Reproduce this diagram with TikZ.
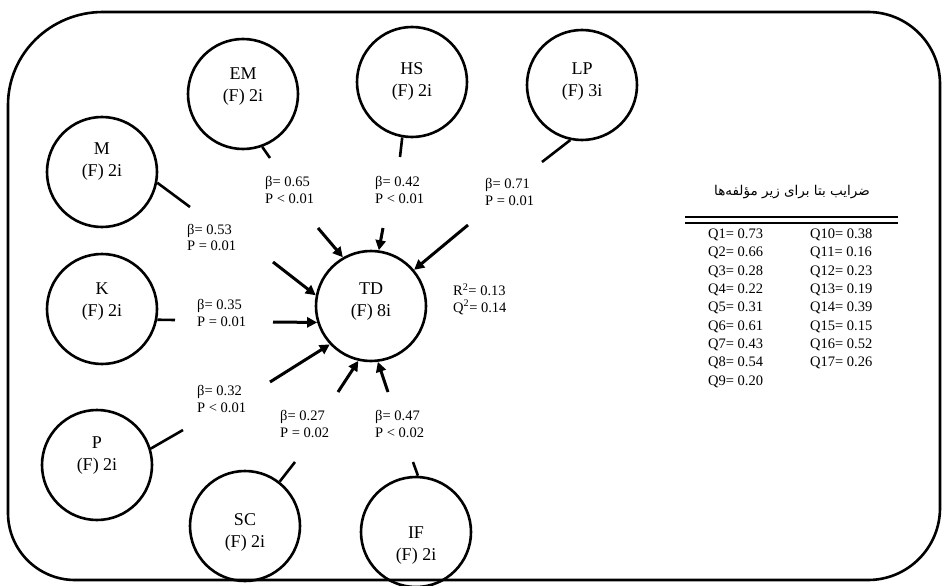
\documentclass[tikz,border=0pt]{standalone}
\usepackage{fontspec}
\setmainfont{Liberation Serif}
\newfontfamily\arabicfont[Script=Arabic]{DejaVu Sans}
\TeXXeTstate=1
\usetikzlibrary{arrows.meta}
\begin{document}
\begin{tikzpicture}[x=1pt,y=-1pt,
  lat/.style={circle,draw,line width=2.6pt,minimum size=110pt,inner sep=0pt},
  lbl/.style={align=center,font=\fontsize{18}{22}\selectfont,inner sep=0pt},
  coef/.style={align=left,anchor=west,font=\fontsize{14.5}{16.5}\selectfont,inner sep=0pt},
  stub/.style={line width=2.6pt},
  arr/.style={line width=3pt,-{Triangle[length=10pt,width=10pt]}},
  tab/.style={anchor=west,font=\fontsize{14.5}{17}\selectfont,inner sep=0pt}
]
\useasboundingbox (0,0) rectangle (948,586);
% outer frame, larger rounding at top left
\draw[line width=2.6pt] (8,300) -- (8,105) arc[start angle=180,end angle=90,x radius=95pt,y radius=93pt]
  -- (868,12) arc[start angle=90,end angle=0,x radius=72pt,y radius=72pt]
  -- (940,508) arc[start angle=0,end angle=-90,x radius=72pt,y radius=72pt]
  -- (75,580) arc[start angle=-90,end angle=-180,x radius=67pt,y radius=67pt] -- cycle;

% latent variables
\node[lat] (EM) at (243,94) {};  \node[lbl] (EMt) at (243,87) {EM\\(F) 2i};
\node[lat] (HS) at (412,82) {};  \node[lbl] (HSt) at (412,81) {HS\\(F) 2i};
\node[lat] (LP) at (582,85) {};  \node[lbl] (LPt) at (582,82) {LP\\(F) 3i};
\node[lat] (M)  at (102,172) {}; \node[lbl] (Mt)  at (102,162) {M\\(F) 2i};
\node[lat] (K)  at (102,309) {}; \node[lbl] (Kt)  at (102,302) {K\\(F) 2i};
\node[lat] (P)  at (97,465) {};  \node[lbl] (Pt)  at (97,456) {P\\(F) 2i};
\node[lat] (TD) at (371,306) {}; \node[lbl] (TDt) at (371,302) {TD\\(F) 8i};
\node[lat] (SC) at (245,526) {}; \node[lbl] (SCt) at (245,532) {SC\\(F) 2i};
\node[lat] (IF) at (416,532) {}; \node[lbl] (IFt) at (416,546) {IF\\(F) 2i};

% free ends of the stubs
\coordinate (emS) at (270,158);
\coordinate (hsS) at (400,157);
\coordinate (lpS) at (542,162);
\coordinate (mS)  at (190,207);
\coordinate (kS)  at (175,320);
\coordinate (pS)  at (183,430);
\coordinate (scS) at (295,462);
\coordinate (ifS) at (413,462);
% starts of the arrows
\coordinate (emA) at (318,228);
\coordinate (hsA) at (383,228);
\coordinate (lpA) at (468,225);
\coordinate (mA)  at (273,262);
\coordinate (kA)  at (273,322);
\coordinate (pA)  at (270,382);
\coordinate (scA) at (338,392);
\coordinate (ifA) at (388,392);

\draw[stub] (EM.-70) -- (emS);
\draw[stub] (HS.-100) -- (hsS);
\draw[stub] (LP.-102) -- (lpS);
\draw[stub] (M.-11) -- (mS);
\draw[stub] (K.-11) -- (kS);
\draw[stub] (P.17) -- (pS);
\draw[stub] (SC.52) -- (scS);
\draw[stub] (IF.88) -- (ifS);

\draw[arr] (emA) -- (TD.120);
\draw[arr] (hsA) -- (TD.82);
\draw[arr] (lpA) -- (TD.40);
\draw[arr] (mA) -- (TD.169);
\draw[arr] (kA) -- (TD.-163);
\draw[arr] (pA) -- (TD.-137);
\draw[arr] (scA) -- (TD.-103);
\draw[arr] (ifA) -- (TD.-83);

% coefficients
\node[coef] (cM)  at (187,237.5) {β= 0.53\\P = 0.01};
\node[coef] (cEM) at (265,190) {β= 0.65\\P < 0.01};
\node[coef] (cHS) at (375,190) {β= 0.42\\P < 0.01};
\node[coef] (cLP) at (485,192) {β= 0.71\\P = 0.01};
\node[coef] (cK)  at (197,313) {β= 0.35\\P = 0.01};
\node[coef] (cP)  at (197,399) {β= 0.32\\P < 0.01};
\node[coef] (cSC) at (280,424) {β= 0.27\\P = 0.02};
\node[coef] (cIF) at (375,424) {β= 0.47\\P < 0.02};
\node[coef] (cR)  at (453,299) {R\textsuperscript{2}= 0.13\\Q\textsuperscript{2}= 0.14};

% table of sub-component betas
\node[font=\arabicfont\fontsize{13.5}{15}\selectfont,inner sep=0pt] (title) at (792,192) {\beginR ضرایب بتا برای زیر مؤلفه‌ها\endR};
\coordinate (r1a) at (685,217); \coordinate (r1b) at (898,217);
\coordinate (r2a) at (685,223); \coordinate (r2b) at (898,223);
\draw[line width=1.4pt] (r1a) -- (r1b);
\draw[line width=1.6pt] (r2a) -- (r2b);
\foreach \a/\b [count=\i] in {Q1= 0.73/Q10= 0.38,Q2= 0.66/Q11= 0.16,Q3= 0.28/Q12= 0.23,Q4= 0.22/Q13= 0.19,Q5= 0.31/Q14= 0.39,Q6= 0.61/Q15= 0.15,Q7= 0.43/Q16= 0.52,Q8= 0.54/Q17= 0.26}{
  \node[tab] (qa\i) at (708,{235+(\i-1)*18.3}) {\a};
  \node[tab] (qb\i) at (810,{235+(\i-1)*18.3}) {\b};
}
\node[tab] (qa9) at (708,{235+8*18.3}) {Q9= 0.20};
\end{tikzpicture}
\end{document}
